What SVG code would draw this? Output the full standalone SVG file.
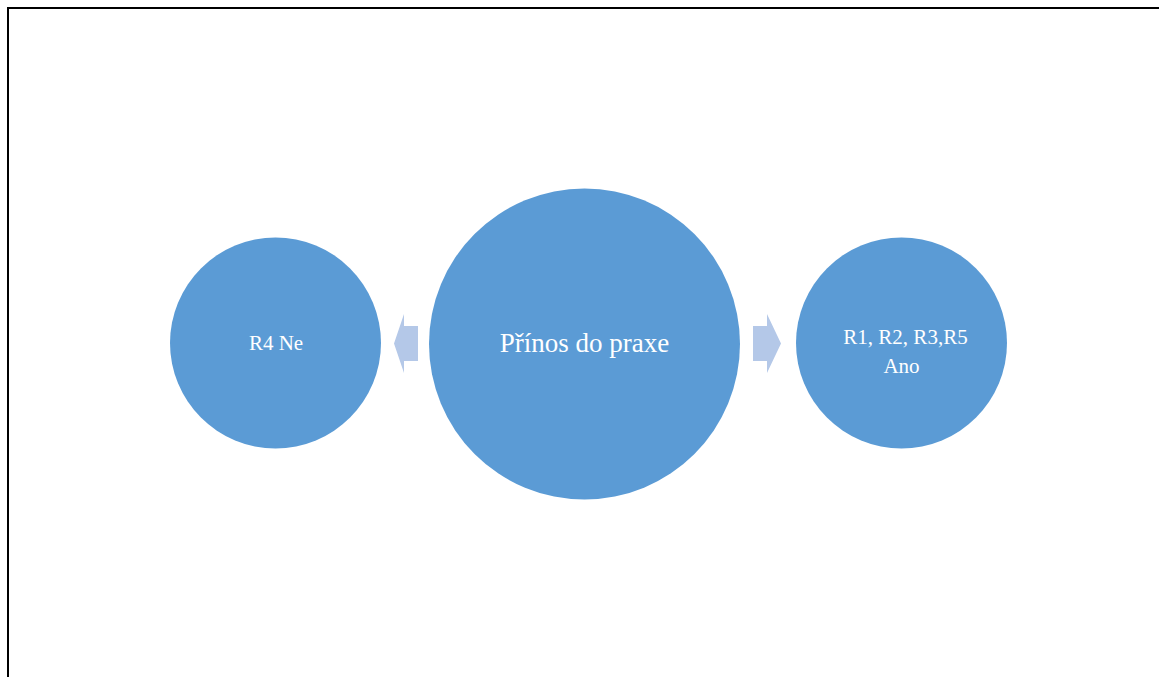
<svg xmlns="http://www.w3.org/2000/svg" width="1159" height="677" viewBox="0 0 1159 677">
  <style>
    .node { fill: #5B9BD5; }
    .arrow { fill: #B4C8E8; }
    .label { fill: #FFFFFF; font-family: "Liberation Serif", "Times New Roman", serif; text-anchor: middle; }
  </style>
  <rect width="1159" height="677" fill="#FFFFFF"/>
  <!-- page frame -->
  <path d="M8 677 V8 H1159" fill="none" stroke="#000000" stroke-width="2"/>

  <g id="connectors">
    <path class="arrow" d="M418 326 H404 V314 L394 343.5 L404 373 V361 H418 Z"/>
    <path class="arrow" d="M753 326 H767 V314 L781 343.5 L767 373 V361 H753 Z"/>
  </g>

  <g id="center">
    <circle class="node" cx="584.5" cy="344" r="155.5"/>
    <text class="label" x="584.5" y="352" font-size="27">Přínos do praxe</text>
  </g>

  <g id="left">
    <circle class="node" cx="275.5" cy="343" r="105.5"/>
    <text class="label" x="276" y="350" font-size="21">R4 Ne</text>
  </g>

  <g id="right">
    <circle class="node" cx="901.5" cy="343" r="105.5"/>
    <text class="label" x="905.5" y="344" font-size="21">R1, R2, R3,R5</text>
    <text class="label" x="901.5" y="373" font-size="21">Ano</text>
  </g>
</svg>
